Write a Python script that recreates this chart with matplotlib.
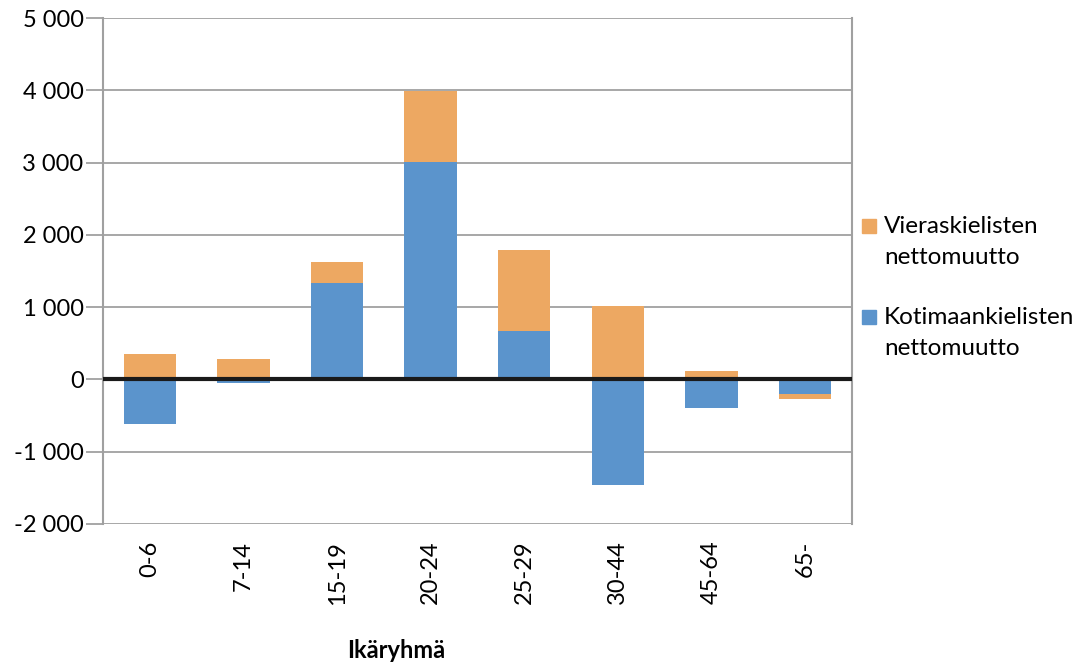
import matplotlib.pyplot as plt
from matplotlib.patches import Rectangle
import numpy as np

plt.rcParams['font.family'] = ['Lato', 'DejaVu Sans']

ikaryhmat = ['0-6', '7-14', '15-19', '20-24', '25-29', '30-44', '45-64', '65-']
kotimaankieliset = [-610, -50, 1340, 3015, 665, -1465, -400, -205]
vieraskieliset = [345, 277, 280, 970, 1120, 1020, 110, -60]

sininen = '#5B94CC'
oranssi = '#EDA862'

W, H = 1086, 668
fig = plt.figure(figsize=(W / 100, H / 100), dpi=100)
ax = fig.add_axes([0.0948, 0.2156, 0.6897, 0.7574])

x = np.arange(len(ikaryhmat))
kot = np.array(kotimaankieliset)
vie = np.array(vieraskieliset)
# Excel-tyylinen pinoaminen: positiiviset ja negatiiviset erikseen
pohja = np.where(vie >= 0, np.maximum(kot, 0), np.minimum(kot, 0))

ax.bar(x, kot, width=0.56, color=sininen, zorder=2)
ax.bar(x, vie, width=0.56, bottom=pohja, color=oranssi, zorder=2)

ax.axhline(0, color='#1a1a1a', lw=3, zorder=3)
ax.set_xlim(-0.5, len(ikaryhmat) - 0.5)
ax.set_ylim(-2000, 5000)
ax.set_yticks(range(-2000, 5001, 1000))
ax.set_yticklabels([f'{v:,}'.replace(',', ' ') for v in range(-2000, 5001, 1000)], fontsize=17)
ax.grid(axis='y', color='#a0a0a0', lw=1.3, zorder=0)
ax.set_axisbelow(True)

ax.set_xticks(x)
ax.set_xticklabels(ikaryhmat, rotation=90, fontsize=17)
ax.tick_params(axis='x', length=0, pad=12)
ax.tick_params(axis='y', length=12, width=1.3, color='#a0a0a0', pad=2)

for s in ['left', 'right']:
    ax.spines[s].set_color('#a0a0a0')
    ax.spines[s].set_linewidth(1.5)
ax.spines['top'].set_visible(False)
ax.spines['bottom'].set_visible(False)

ax.set_xlabel('Ikäryhmä', fontsize=17, fontweight='bold')
ax.xaxis.set_label_coords(0.391, -0.228)

# selite käsin, jotta merkki osuu ensimmäisen rivin kohdalle
selitteet = [('Vieraskielisten\nnettomuutto', oranssi, 226),
             ('Kotimaankielisten\nnettomuutto', sininen, 317)]
for teksti, vari, yy in selitteet:
    fig.patches.append(Rectangle((862 / W, 1 - (yy + 7) / H), 14 / W, 14 / H,
                                 transform=fig.transFigure, color=vari))
    fig.text(884 / W, 1 - (yy + 16) / H, teksti, fontsize=17.5, va='center', ha='left',
             linespacing=1.6)

fig.savefig('out.png', dpi=100)
